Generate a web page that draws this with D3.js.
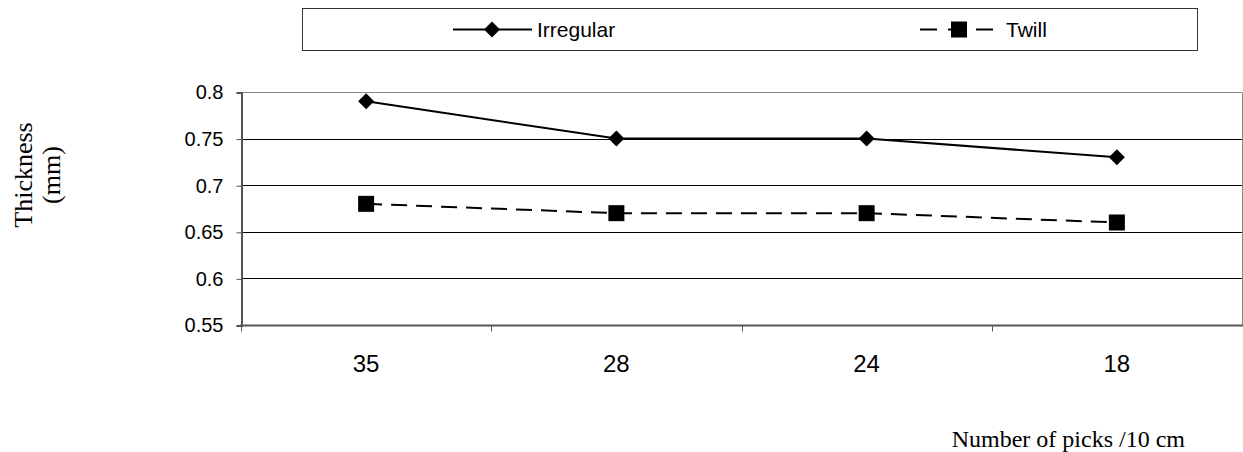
<!DOCTYPE html>
<html>
<head>
<meta charset="utf-8">
<script src="https://cdn.jsdelivr.net/npm/d3@7"></script>
<style>
body { margin: 0; background: #fff; }
svg { display: block; }
</style>
</head>
<body>
<svg id="svg1" width="1243" height="452"></svg>
<script>
var width = 1243;
var height = 452;

// data
var picks = ["35", "28", "24", "18"];
var irregular = [0.79, 0.75, 0.75, 0.73];
var twill = [0.68, 0.67, 0.67, 0.66];
var yTicks = [0.55, 0.6, 0.65, 0.7, 0.75, 0.8];

var plotLeft = 241, plotRight = 1242, plotTop = 92, plotBottom = 325;
var sans = 'Liberation Sans, Arial, sans-serif';
var serif = 'Liberation Serif, Times New Roman, serif';

var svg = d3.select('svg');

var x = d3.scaleBand()
    .domain(picks)
    .range([plotLeft, plotRight]);

var y = d3.scaleLinear()
    .domain([0.55, 0.8])
    .range([plotBottom, plotTop]);

// gridlines
svg.append('g')
    .selectAll('line')
    .data(yTicks.slice(1, -1))
    .enter().append('line')
    .attr('x1', plotLeft).attr('x2', plotRight)
    .attr('y1', function(d) { return Math.round(y(d)) + 0.5; })
    .attr('y2', function(d) { return Math.round(y(d)) + 0.5; })
    .attr('stroke', '#000')
    .attr('stroke-width', 1);

// top + right border
svg.append('path')
    .attr('d', 'M' + plotLeft + ',' + (plotTop + 0.5) + 'H' + (plotRight + 0.5) + 'V' + plotBottom)
    .attr('fill', 'none')
    .attr('stroke', '#888');

// y axis
var yAxis = svg.append('g')
    .attr('transform', 'translate(' + (plotLeft + 0.5) + ',0.5)')
    .call(d3.axisLeft(y).tickValues(yTicks).tickSize(5).tickPadding(13)
        .tickFormat(function(d) { return String(+d.toFixed(2)); }));
yAxis.select('.domain').attr('stroke', '#555').attr('stroke-width', 2);
yAxis.selectAll('.tick line').attr('stroke', '#555');
yAxis.selectAll('text')
    .attr('font-family', sans)
    .attr('font-size', '20px')
    .attr('fill', '#000');

// x axis (ticks between categories)
var xAxis = svg.append('g')
    .attr('transform', 'translate(0,' + (plotBottom + 0.5) + ')');
xAxis.append('line')
    .attr('x1', plotLeft - 1).attr('x2', plotRight + 1)
    .attr('stroke', '#555').attr('stroke-width', 2);
xAxis.selectAll('.sep')
    .data(picks)
    .enter().append('line')
    .attr('class', 'sep')
    .attr('x1', function(d) { return Math.round(x(d)) + 0.5; })
    .attr('x2', function(d) { return Math.round(x(d)) + 0.5; })
    .attr('y1', 0).attr('y2', 6)
    .attr('stroke', '#555');
xAxis.selectAll('.lab')
    .data(picks)
    .enter().append('text')
    .attr('class', 'lab')
    .attr('x', function(d) { return x(d) + x.bandwidth() / 2; })
    .attr('y', 38)
    .attr('dy', '0.35em')
    .attr('text-anchor', 'middle')
    .attr('font-family', sans)
    .attr('font-size', '24px')
    .text(function(d) { return d; });

function cx(d, i) { return x(picks[i]) + x.bandwidth() / 2; }

var line = d3.line()
    .x(function(d, i) { return cx(d, i); })
    .y(function(d) { return y(d); });

// Irregular
svg.append('path')
    .datum(irregular)
    .attr('d', line)
    .attr('fill', 'none')
    .attr('stroke', '#000')
    .attr('stroke-width', 2);
svg.selectAll('.dia')
    .data(irregular)
    .enter().append('path')
    .attr('class', 'dia')
    .attr('transform', function(d, i) { return 'translate(' + cx(d, i) + ',' + y(d) + ')'; })
    .attr('d', 'M0,-8L8,0L0,8L-8,0Z')
    .attr('fill', '#000');

// Twill
svg.append('path')
    .datum(twill)
    .attr('d', line)
    .attr('fill', 'none')
    .attr('stroke', '#000')
    .attr('stroke-width', 2)
    .attr('stroke-dasharray', '16,9');
svg.selectAll('.sq')
    .data(twill)
    .enter().append('rect')
    .attr('class', 'sq')
    .attr('x', function(d, i) { return cx(d, i) - 8; })
    .attr('y', function(d) { return y(d) - 8; })
    .attr('width', 16).attr('height', 16)
    .attr('fill', '#000');

// legend
var legend = svg.append('g');
legend.append('rect')
    .attr('x', 302.5).attr('y', 8.5)
    .attr('width', 895).attr('height', 42)
    .attr('fill', '#fff').attr('stroke', '#333');
legend.append('line')
    .attr('x1', 453).attr('x2', 532).attr('y1', 29.5).attr('y2', 29.5)
    .attr('stroke', '#000').attr('stroke-width', 2);
legend.append('path')
    .attr('transform', 'translate(492,29.5)')
    .attr('d', 'M0,-8L8,0L0,8L-8,0Z')
    .attr('fill', '#000');
legend.append('text')
    .attr('x', 537).attr('y', 30).attr('dy', '0.35em')
    .attr('font-family', sans)
    .attr('font-size', '21px')
    .text('Irregular');
legend.append('line')
    .attr('x1', 920).attr('x2', 995).attr('y1', 29.5).attr('y2', 29.5)
    .attr('stroke', '#000').attr('stroke-width', 2)
    .attr('stroke-dasharray', '17,11');
legend.append('rect')
    .attr('x', 951).attr('y', 21.5).attr('width', 16).attr('height', 16)
    .attr('fill', '#000');
legend.append('text')
    .attr('x', 1006).attr('y', 30).attr('dy', '0.35em')
    .attr('font-family', sans)
    .attr('font-size', '21px')
    .text('Twill');

// axis titles
var yt = svg.append('text')
    .attr('transform', 'translate(32,175) rotate(-90)')
    .attr('text-anchor', 'middle')
    .attr('font-family', serif)
    .attr('font-size', '26px');
yt.append('tspan').attr('x', 0).attr('y', 0).text('Thickness');
yt.append('tspan').attr('x', 0).attr('y', 28).text('(mm)');

svg.append('text')
    .attr('x', 1185).attr('y', 447)
    .attr('text-anchor', 'end')
    .attr('font-family', serif)
    .attr('font-size', '24px')
    .text('Number of picks /10 cm');
</script>
</body>
</html>
